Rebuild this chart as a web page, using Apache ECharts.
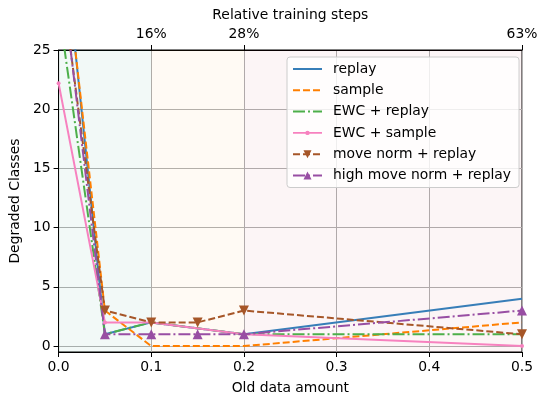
<!DOCTYPE html>
<html>
<head>
<meta charset="utf-8">
<script src="https://cdn.jsdelivr.net/npm/echarts@6/dist/echarts.min.js"></script>
<style>
  html, body { margin: 0; padding: 0; background: #fff; }
  #chart { width: 547px; height: 405px; }
</style>
</head>
<body>
<div id="chart"></div>
<script>
// old data amount (x) for each run
var xBase = [0, 0.05, 0.1, 0.2, 0.5];
var xMove = [0, 0.05, 0.1, 0.15, 0.2, 0.5];

// degraded classes
var replay = [38.5, 1, 2, 1, 4];
var sample = [37.4, 3, 0, 0, 2];
var ewcReplay = [28.6, 1, 2, 1, 1];
var ewcSample = [22.2, 2, 2, 1, 0];
var moveNorm = [32.7, 3, 2, 2, 3, 1];
var highMoveNorm = [33.4, 1, 1, 1, 1, 3];

// top axis: relative training steps
var topTicks = [0.1, 0.2, 0.5];
var topLabels = ['16%', '28%', '63%'];

var yTicks = [0, 5, 10, 15, 20, 25];

function pairs(xs, ys) {
  var out = [];
  for (var i = 0; i < xs.length; i++) out.push([xs[i], ys[i]]);
  return out;
}

var font = 'DejaVu Sans';
var fs = 13.9;
var noMarker = { opacity: 0 };
// line with a small dot, for the legend entry of EWC + sample
var dotLineIcon = 'path://M0,0 L0.01,0 Z M29,10 L29,9.99 Z M0,4.2 L29,4.2 L29,5.8 L0,5.8 Z M12.3,5 A2.2,2.2 0 1,1 16.7,5 A2.2,2.2 0 1,1 12.3,5 Z';

var myChart = echarts.init(document.getElementById('chart'));

var option = {
  animation: false,
  backgroundColor: '#fff',
  textStyle: { fontFamily: font },
  grid: {
    left: 57, right: 25, top: 50, bottom: 53,
    show: true, borderColor: '#000', borderWidth: 1, backgroundColor: 'transparent'
  },
  legend: {
    orient: 'vertical',
    left: 287, top: 57,
    itemWidth: 29, itemHeight: 10, itemGap: 7.3,
    padding: [5, 8, 5, 5],
    backgroundColor: 'rgba(255,255,255,0.8)',
    borderColor: '#cccccc', borderWidth: 1, borderRadius: 3,
    textStyle: { fontFamily: font, fontSize: fs, color: '#000', padding: [0, 0, 0, 6] },
    data: [
      { name: 'replay', itemStyle: noMarker },
      { name: 'sample', itemStyle: noMarker },
      { name: 'EWC + replay', itemStyle: noMarker },
      { name: 'EWC + sample', icon: dotLineIcon },
      { name: 'move norm + replay' },
      { name: 'high move norm + replay' }
    ]
  },
  xAxis: [{
    type: 'value', position: 'bottom',
    min: 0, max: 0.5, interval: 0.1,
    name: 'Old data amount', nameLocation: 'middle', nameGap: 29,
    nameTextStyle: { fontFamily: font, fontSize: fs, color: '#000' },
    axisLine: { show: true, onZero: false, lineStyle: { color: '#000', width: 1 } },
    axisTick: { show: true, length: 5, lineStyle: { color: '#000' } },
    axisLabel: { fontFamily: font, fontSize: fs, color: '#000', margin: 8,
      formatter: function (v) { return v.toFixed(1); } },
    splitLine: { show: true, lineStyle: { color: '#b0b0b0', width: 1 } }
  }, {
    type: 'value', position: 'top',
    min: 0, max: 0.5,
    name: 'Relative training steps', nameLocation: 'middle', nameGap: 28,
    nameTextStyle: { fontFamily: font, fontSize: fs, color: '#000' },
    axisLine: { show: true, onZero: false, lineStyle: { color: '#000', width: 1 } },
    axisTick: { show: true, length: 5, customValues: topTicks, lineStyle: { color: '#000' } },
    axisLabel: { fontFamily: font, fontSize: fs, color: '#000', margin: 9,
      customValues: topTicks,
      formatter: function (v) {
        for (var i = 0; i < topTicks.length; i++) {
          if (Math.abs(topTicks[i] - v) < 1e-9) return topLabels[i];
        }
        return '';
      } },
    splitLine: { show: false }
  }],
  yAxis: {
    type: 'value', min: -0.5, max: 25,
    name: 'Degraded Classes', nameLocation: 'middle', nameGap: 34,
    nameTextStyle: { fontFamily: font, fontSize: fs, color: '#000' },
    axisLine: { show: true, onZero: false, lineStyle: { color: '#000', width: 1 } },
    axisTick: { show: true, length: 5, customValues: yTicks, lineStyle: { color: '#000' } },
    axisLabel: { fontFamily: font, fontSize: fs, color: '#000', margin: 8, customValues: yTicks },
    splitLine: { show: true, lineStyle: { color: '#b0b0b0', width: 1 } }
  },
  series: [{
    name: 'replay', type: 'line', symbol: 'none',
    data: pairs(xBase, replay),
    lineStyle: { color: '#377eb8', width: 2 }, itemStyle: { color: '#377eb8' },
    markArea: {
      silent: true,
      data: [
        [{ xAxis: 0, itemStyle: { color: 'rgba(0,128,96,0.05)' } }, { xAxis: 0.1 }],
        [{ xAxis: 0.1, itemStyle: { color: 'rgba(255,155,40,0.05)' } }, { xAxis: 0.2 }],
        [{ xAxis: 0.2, itemStyle: { color: 'rgba(175,0,30,0.04)' } }, { xAxis: 0.5 }]
      ]
    }
  }, {
    name: 'sample', type: 'line', symbol: 'none',
    data: pairs(xBase, sample),
    lineStyle: { color: '#ff7f00', width: 2, type: [7, 3] }, itemStyle: { color: '#ff7f00' }
  }, {
    name: 'EWC + replay', type: 'line', symbol: 'none',
    data: pairs(xBase, ewcReplay),
    lineStyle: { color: '#4daf4a', width: 2, type: [12, 3, 2, 3] }, itemStyle: { color: '#4daf4a' }
  }, {
    name: 'EWC + sample', type: 'line', symbol: 'circle', symbolSize: 4,
    data: pairs(xBase, ewcSample),
    lineStyle: { color: '#f781bf', width: 2 }, itemStyle: { color: '#f781bf' }
  }, {
    name: 'move norm + replay', type: 'line', symbol: 'triangle', symbolRotate: 180, symbolSize: 10,
    data: pairs(xMove, moveNorm),
    lineStyle: { color: '#a65628', width: 2, type: [7, 3] }, itemStyle: { color: '#a65628' }
  }, {
    name: 'high move norm + replay', type: 'line', symbol: 'triangle', symbolSize: 10,
    data: pairs(xMove, highMoveNorm),
    lineStyle: { color: '#984ea3', width: 2, type: [12, 3, 2, 3] }, itemStyle: { color: '#984ea3' }
  }]
};

myChart.setOption(option);
</script>
</body>
</html>
